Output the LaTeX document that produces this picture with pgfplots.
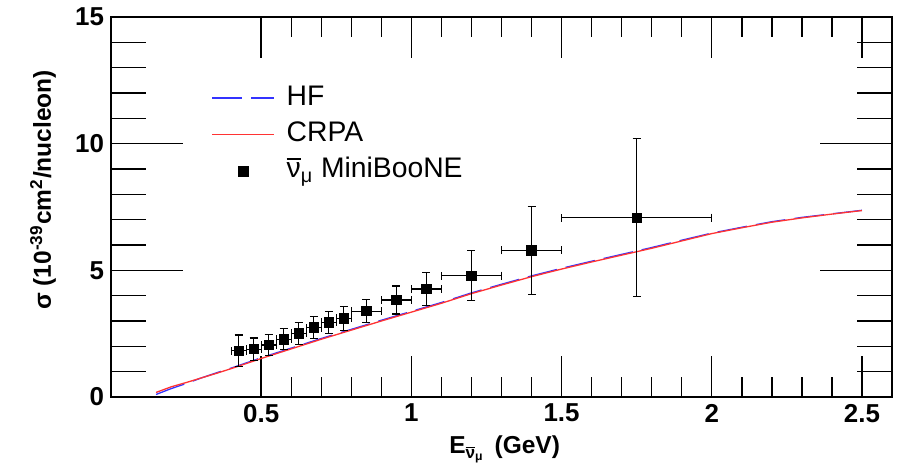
\documentclass[border=0pt]{standalone}
\usepackage{fontspec}
\setmainfont{Liberation Sans}
\usepackage{amsmath}
\usepackage{pgfplots}
\pgfplotsset{compat=1.18}
\pgfplotsset{
  longline legend/.style={legend image code/.code={\draw[##1] (0bp,0bp) -- (31bp,0bp);}},
  sqmark legend/.style={legend image code/.code={\fill[black] (13bp,-2.5bp) rectangle (18bp,2.5bp);}},
  common/.style={
    scale only axis,
    width=390.5bp, height=190bp,
    xmin=0, xmax=2.6, ymin=0, ymax=15,
    tick align=inside,
    axis line style={line width=1bp},
    every tick/.style={line width=0.7bp, black},
    /pgf/number format/assume math mode=true,
    ticklabel style={font=\fontsize{13}{15}\selectfont\bfseries},
    label style={font=\fontsize{12.3}{14}\selectfont\bfseries},
  },
}
\pgfplotstableread{
x ex y ey
0.425 0.025 1.83 0.62
0.475 0.025 1.89 0.44
0.525 0.025 2.05 0.42
0.575 0.025 2.28 0.41
0.625 0.025 2.51 0.43
0.675 0.025 2.74 0.44
0.725 0.025 2.95 0.44
0.775 0.025 3.10 0.46
0.85 0.05 3.39 0.46
0.95 0.05 3.83 0.55
1.05 0.05 4.26 0.65
1.2 0.1 4.79 0.99
1.4 0.1 5.79 1.73
1.75 0.25 7.08 3.11
}\dataMB
\pgfplotstableread{
x y
0.15 0.10
0.2 0.33
0.25 0.53
0.3 0.75
0.35 0.95
0.4 1.14
0.5 1.55
0.6 1.93
0.7 2.31
0.8 2.67
0.9 3.03
1.0 3.38
1.1 3.73
1.2 4.11
1.3 4.45
1.4 4.78
1.5 5.08
1.6 5.36
1.7 5.63
1.8 5.90
1.9 6.19
2.0 6.47
2.1 6.70
2.2 6.92
2.3 7.09
2.4 7.23
2.5 7.37
}\dataHF
\pgfplotstableread{
x y
0.15 0.18
0.2 0.40
0.25 0.57
0.3 0.75
0.35 0.93
0.4 1.12
0.5 1.52
0.6 1.90
0.7 2.28
0.8 2.64
0.9 3.00
1.0 3.35
1.1 3.70
1.2 4.08
1.3 4.42
1.4 4.75
1.5 5.05
1.6 5.33
1.7 5.60
1.8 5.87
1.9 6.16
2.0 6.45
2.1 6.68
2.2 6.90
2.3 7.07
2.4 7.22
2.5 7.36
}\dataCRPA
\begin{document}
\begin{tikzpicture}
% y ticks axis
\begin{axis}[
  common,
  xtick=\empty,
  ytick={0,5,10,15},
  minor y tick num=4,
  major tick length=36bp, minor tick length=17.5bp,
  ylabel={σ (10\textsuperscript{-39}cm\textsuperscript{2}/nucleon)},
  ylabel style={at={(axis description cs:-0.087,0.545)},anchor=center},
]
\end{axis}
% main axis with x ticks and data
\begin{axis}[
  common,
  xtick={0.5,1,1.5,2,2.5},
  xticklabels={0.5,1,1.5,2,2.5},
  ytick=\empty,
  minor x tick num=4,
  major tick length=20.5bp, minor tick length=10bp,
  xlabel={E$_{\overline{\text{ν}}_{\text{μ}}}$\hspace{5bp}(GeV)},
  xlabel style={at={(axis description cs:0.504,-0.15)},anchor=base},
  legend style={draw=none, fill=none, font=\fontsize{14.2}{16}\selectfont,
    at={(axis description cs:0.128,0.827)}, anchor=north west, row sep=3.2bp,
    inner sep=0pt,
    nodes={inner sep=1bp, text height=10bp, text depth=3bp},
    /tikz/every odd column/.append style={column sep=5bp}},
  legend cell align=left,
]
\addplot[blue!80!white, line width=0.65bp, dash pattern=on 15bp off 4.5bp, longline legend] table[x=x,y=y] {\dataHF};
\addlegendentry{HF}
\addplot[red!80!white, line width=0.65bp, longline legend] table[x=x,y=y] {\dataCRPA};
\addlegendentry{CRPA}
\addplot[only marks, mark=square*, mark size=2.35bp, black, sqmark legend,
  error bars/.cd, x dir=both, x explicit, y dir=both, y explicit,
  error bar style={line width=0.6bp, black},
  error mark options={rotate=90, mark size=2bp, line width=0.6bp, black},
  ] table[x=x,y=y,x error=ex,y error=ey] {\dataMB};
\addlegendentry{$\overline{\text{ν}}_{\text{μ}}$ MiniBooNE}
\end{axis}
\path ([shift={(-55.5bp,-36.5bp)}]current axis.south west) rectangle ([shift={(6.5bp,8.5bp)}]current axis.north east);
\end{tikzpicture}
\end{document}
